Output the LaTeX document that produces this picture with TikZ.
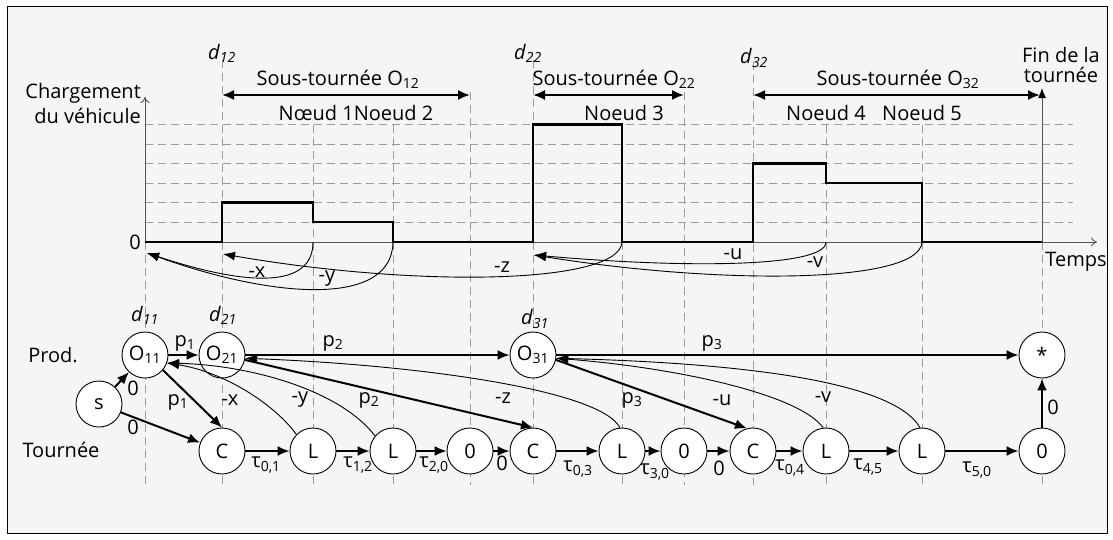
\documentclass[tikz,border=0pt]{standalone}
\usepackage{fontspec}
\setmainfont{Open Sans}
\usetikzlibrary{arrows.meta}
\definecolor{bgc}{HTML}{F5F5F5}
\definecolor{gridc}{HTML}{9C9C9C}
\definecolor{axc}{HTML}{555555}
\begin{document}
\begin{tikzpicture}[x=1pt,y=-1pt,
  txt/.style={font=\fontsize{20}{24}\selectfont, inner sep=0pt},
  nd/.style={circle, draw=black, fill=white, line width=0.9pt, minimum size=46pt, inner sep=0pt, font=\fontsize{20}{24}\selectfont},
  thk/.style={line width=2pt, -{Latex[length=12pt,width=10pt]}},
  dbl/.style={line width=2pt, {Latex[length=12pt,width=10pt]}-{Latex[length=12pt,width=10pt]}},
  thn/.style={line width=0.9pt, -{Latex[length=12pt,width=9pt]}},
  gridl/.style={gridc, line width=0.8pt, dash pattern=on 8pt off 5pt},
  prof/.style={line width=2.6pt, line join=miter},
  axis/.style={axc, line width=0.9pt, -{To[length=6pt,width=9pt]}},
]
\useasboundingbox (0,0) rectangle (1113,539);
\fill[white] (0,0) rectangle (1113,539);
\draw[black, line width=0.8pt, fill=bgc] (7,6) rectangle (1107,533);

% grid
\foreach \yy in {124.5,144,163.5,183,202.5,222} \draw[gridl] (145,\yy) -- (1073,\yy);
\foreach \xx/\ys in {222/60, 313/125, 393/125, 470/92, 533/60, 622/125, 684/92, 753/62, 826/125, 922/125}
  \draw[gridl] (\xx,\ys) -- (\xx,485);
\draw[gridl] (145,242) -- (145,485);
\draw[gridl] (1042,242) -- (1042,485);

% axes
\coordinate (orig) at (145,242);
\coordinate (ytop) at (145,97);
\coordinate (xend) at (1097,242);
\coordinate (fin0) at (1042,242);
\coordinate (fin1) at (1042,88);
\draw[axis] (orig) -- (ytop);
\draw[axis] (orig) -- (xend);
\draw[axc, line width=1pt, -{Latex[length=10pt,width=8pt,color=black]}] (fin0) -- (fin1);

% load profile
\draw[prof] (145,242) -- (222,242) -- (222,202.5) -- (313,202.5) -- (313,222) -- (393,222) -- (393,242)
  -- (533,242) -- (533,124.5) -- (622,124.5) -- (622,242) -- (753,242) -- (753,163.5) -- (826,163.5)
  -- (826,183) -- (922,183) -- (922,242) -- (1042,242);

% sous-tournee arrows
\coordinate (a1) at (222,95); \coordinate (b1) at (470,95);
\coordinate (a2) at (533,95); \coordinate (b2) at (684,95);
\coordinate (a3) at (753,95); \coordinate (b3) at (1040,95);
\draw[dbl] (a1) -- (b1);
\draw[dbl] (a2) -- (b2);
\draw[dbl] (a3) -- (b3);

% top texts
\node[txt, align=right, anchor=east, font=\fontsize{20}{25}\selectfont] (chg) at (141,103) {Chargement\\du véhicule};
\node[txt, anchor=east] (zero) at (141,242) {0};
\node[txt] (temps) at (1076,262) {Temps};
\node[txt, align=center, font=\fontsize{20}{20}\selectfont] (fin) at (1061,65) {Fin de la\\tournée};
\node[txt] (d12) at (222,53) {\textit{d}\textsubscript{\textit{12}}};
\node[txt] (d22) at (528,53) {\textit{d}\textsubscript{\textit{22}}};
\node[txt] (d32) at (754,58) {\textit{d}\textsubscript{\textit{32}}};
\node[txt] (st1) at (338,79) {Sous-tournée O\textsubscript{12}};
\node[txt] (st2) at (614,79) {Sous-tournée O\textsubscript{22}};
\node[txt] (st3) at (898,79) {Sous-tournée O\textsubscript{32}};
\node[txt] (n12) at (356,113) {Nœud 1Noeud 2};
\node[txt] (n3) at (624,113) {Noeud 3};
\node[txt] (n4) at (826,113) {Noeud 4};
\node[txt] (n5) at (922,113) {Noeud 5};

% top return curves
\coordinate (rx) at (313,242); \coordinate (ry) at (393,242); \coordinate (rz) at (622,242);
\coordinate (ru) at (826,242); \coordinate (rv) at (922,242);
\coordinate (t11) at (147,253); \coordinate (t21) at (223,254); \coordinate (t31) at (534,255);
\draw[thn] (rx) .. controls (313,288) and (250,287) .. (t11);
\draw[thn] (ry) .. controls (392,308) and (272,298) .. (t11);
\draw[thn] (rz) .. controls (620,284) and (420,288) .. (t21);
\draw[thn] (ru) .. controls (826,268) and (680,268) .. (t31);
\draw[thn] (rv) .. controls (920,284) and (720,285) .. (t31);
\node[txt] (lx) at (257,272) {-x};
\node[txt] (ly) at (327,279) {-y};
\node[txt] (lz) at (502,267) {-z};
\node[txt] (lu) at (733,254) {-u};
\node[txt] (lv) at (815,262) {-v};

% graph nodes
\node[nd] (O11) at (145,355) {O\textsubscript{11}};
\node[nd] (O21) at (222,355) {O\textsubscript{21}};
\node[nd] (O31) at (533,355) {O\textsubscript{31}};
\node[nd] (E) at (1042,355) {*};
\node[nd] (S) at (99,404) {s};
\node[nd] (C1) at (222,451) {C};
\node[nd] (L1) at (313,451) {L};
\node[nd] (L2) at (393,451) {L};
\node[nd] (Z1) at (470,451) {0};
\node[nd] (C2) at (533,451) {C};
\node[nd] (L3) at (622,451) {L};
\node[nd] (Z2) at (684,451) {0};
\node[nd] (C3) at (753,451) {C};
\node[nd] (L4) at (826,451) {L};
\node[nd] (L5) at (922,451) {L};
\node[nd] (Z3) at (1042,451) {0};

\node[txt] (prod) at (53,355) {Prod.};
\node[txt] (tour) at (61,450) {Tournée};
\node[txt] (d11) at (145,315) {\textit{d}\textsubscript{\textit{11}}};
\node[txt] (d21) at (223,315) {\textit{d}\textsubscript{\textit{21}}};
\node[txt] (d31) at (535,319) {\textit{d}\textsubscript{\textit{31}}};

% thin return arcs
\draw[thn] (L1.135) .. controls (275,405) and (225,372) .. (O11.-20);
\draw[thn] (L2.140) .. controls (340,390) and (250,365) .. (O11.-20);
\draw[thn] (L3.95) .. controls (600,390) and (420,365) .. (O21.-8);
\draw[thn] (L4.97) .. controls (800,395) and (680,368) .. (O31.-8);
\draw[thn] (L5.95) .. controls (890,375) and (700,362) .. (O31.-8);
\node[txt] (mx) at (230,400) {-x};
\node[txt] (my) at (300,400) {-y};
\node[txt] (mz) at (503,398) {-z};
\node[txt] (mu) at (722,400) {-u};
\node[txt] (mv) at (823,397) {-v};

% thick arcs
\draw[thk] (S) -- (O11);
\draw[thk] (S) -- (C1);
\draw[thk] (O11) -- (O21);
\draw[thk] (O11.-40) -- (C1.north);
\draw[thk] (O21) -- (O31);
\draw[thk] (O21.-12) -- (C2.north);
\draw[thk] (O31) -- (E);
\draw[thk] (O31.-12) -- (C3.105);
\draw[thk] (Z3) -- (E);
\draw[thk] (C1) -- (L1);
\draw[thk] (L1) -- (L2);
\draw[thk] (L2) -- (Z1);
\draw[thk] (Z1) -- (C2);
\draw[thk] (C2) -- (L3);
\draw[thk] (L3) -- (Z2);
\draw[thk] (Z2) -- (C3);
\draw[thk] (C3) -- (L4);
\draw[thk] (L4) -- (L5);
\draw[thk] (L5) -- (Z3);

\node[txt] (e1) at (133,388) {0};
\node[txt] (e2) at (133,427) {0};
\node[txt] (e3) at (185,343) {p\textsubscript{1}};
\node[txt] (e4) at (178,402) {p\textsubscript{1}};
\node[txt] (e5) at (333,343) {p\textsubscript{2}};
\node[txt] (e6) at (369,400) {p\textsubscript{2}};
\node[txt] (e7) at (712,343) {p\textsubscript{3}};
\node[txt] (e8) at (632,400) {p\textsubscript{3}};
\node[txt] (e9) at (1053,407) {0};
\node[txt] (t1) at (266,465) {τ\textsubscript{0,1}};
\node[txt] (t2) at (358,465) {τ\textsubscript{1,2}};
\node[txt] (t3) at (434,465) {τ\textsubscript{2,0}};
\node[txt] (t4) at (502,463) {0};
\node[txt] (t5) at (578,469) {τ\textsubscript{0,3}};
\node[txt] (t6) at (655,472) {τ\textsubscript{3,0}};
\node[txt] (t7) at (719,468) {0};
\node[txt] (t8) at (790,468) {τ\textsubscript{0,4}};
\node[txt] (t9) at (868,467) {τ\textsubscript{4,5}};
\node[txt] (t10) at (977,470) {τ\textsubscript{5,0}};
\end{tikzpicture}
\end{document}
